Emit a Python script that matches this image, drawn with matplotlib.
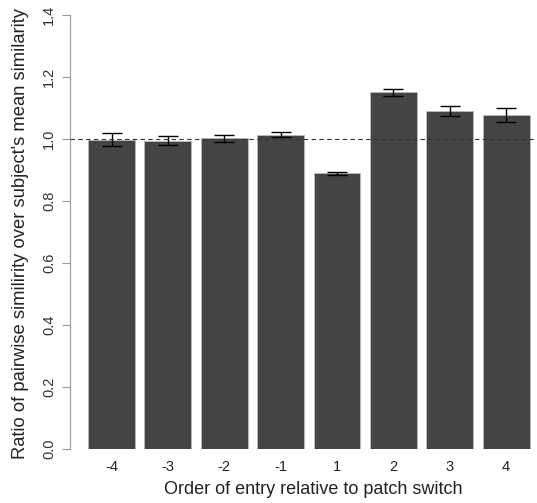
import matplotlib
matplotlib.use("Agg")
import matplotlib.pyplot as plt
import numpy as np

categories = ["-4", "-3", "-2", "-1", "1", "2", "3", "4"]
values = [0.998, 0.995, 1.002, 1.013, 0.889, 1.150, 1.090, 1.078]
errors = [0.020, 0.015, 0.011, 0.008, 0.006, 0.010, 0.016, 0.022]
yticks = [0.0, 0.2, 0.4, 0.6, 0.8, 1.0, 1.2, 1.4]

plt.rcParams['font.family'] = ['Liberation Sans', 'DejaVu Sans']

W, H = 537, 503
fig = plt.figure(figsize=(W / 100, H / 100), dpi=100)
# plot region in pixels
left_px, right_px = 70, 557
bottom_px, top_px = 449, -2.4
ax = fig.add_axes([left_px / W, 1 - bottom_px / H, (right_px - left_px) / W, (bottom_px - top_px) / H])

x = 0.7 + 1.2 * np.arange(len(categories))
ax.bar(x, values, width=1.0, color="#444444", edgecolor="#bbbbbb", linewidth=0.6, zorder=2)
ax.errorbar(x, values, yerr=errors, fmt="none", ecolor="black", elinewidth=1.0, capsize=7, capthick=1.0, zorder=3)
ax.axhline(1.0, color="#333333", linestyle=(0, (4, 3)), linewidth=0.8, zorder=4)

ax.set_xlim(-0.184, 10.184)
ax.set_ylim(0, 1.456)

for s in ["top", "right", "bottom"]:
    ax.spines[s].set_visible(False)
ax.spines["left"].set_bounds(0, 1.4)
ax.spines["left"].set_color("#999999")

ax.set_yticks(yticks)
ax.set_yticklabels([f"{t:.1f}" for t in yticks], rotation=90, va="center", fontsize=10.5, color="#333333")
ax.tick_params(axis="y", length=6, color="#999999", pad=4)

ax.set_xticks(x)
ax.set_xticklabels(categories, fontsize=10.5, color="#222222")
ax.tick_params(axis="x", length=0, pad=8)

ax.set_xlabel("Order of entry relative to patch switch", fontsize=13, color="#222222", labelpad=5)
ax.set_ylabel("Ratio of pairwise similirity over subject's mean similarity", fontsize=13.2, color="#222222")
ax.yaxis.set_label_coords(-0.084, 0.4785)
ax.patch.set_alpha(0)

fig.savefig("out.png", dpi=100)
